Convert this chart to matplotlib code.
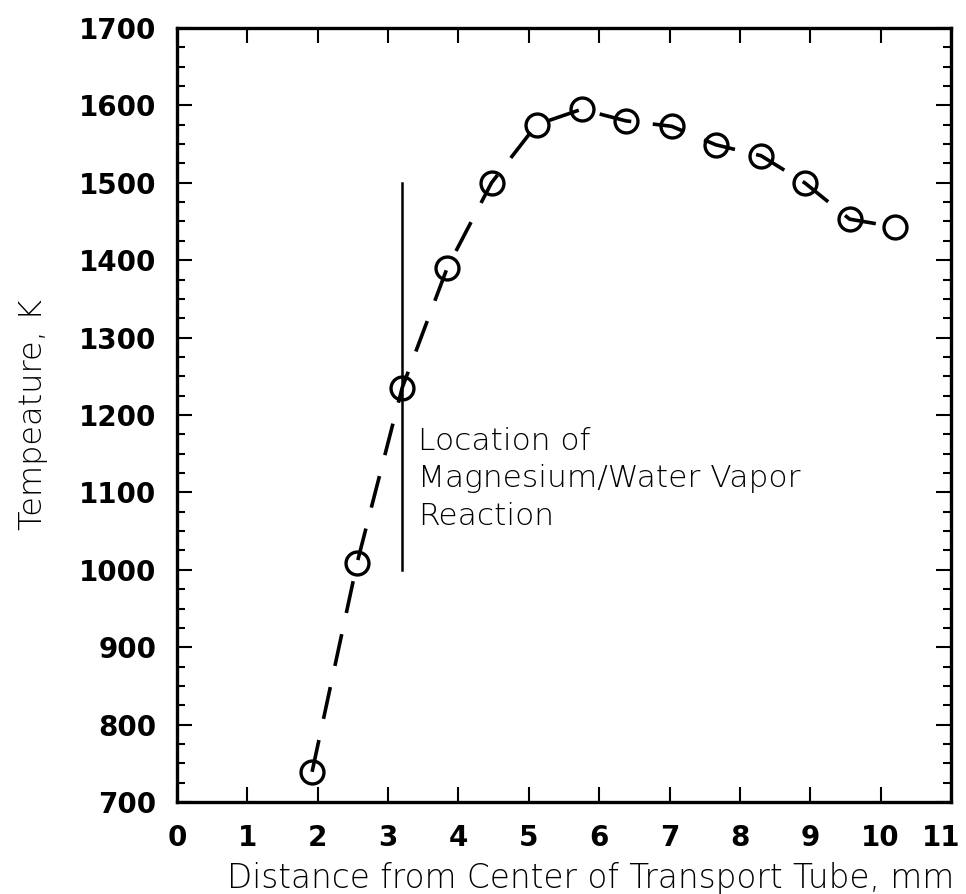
import matplotlib
matplotlib.use("Agg")
import matplotlib.pyplot as plt
from matplotlib.ticker import MultipleLocator
from matplotlib.transforms import ScaledTranslation

# measured temperature profile across the transport tube
distance_mm = [1.92, 2.56, 3.20, 3.84, 4.47, 5.11, 5.75, 6.38, 7.03, 7.66, 8.30, 8.92, 9.56, 10.20]
temperature_k = [739, 1009, 1235, 1390, 1500, 1575, 1595, 1580, 1573, 1549, 1535, 1500, 1453, 1443]

# reaction zone marker
reaction_x = 3.2
reaction_span = [1000, 1500]
reaction_note = "Location of\nMagnesium/Water Vapor\nReaction"

x_ticks = list(range(0, 12))
y_ticks = list(range(700, 1800, 100))

fig = plt.figure(figsize=(9.66, 8.94), dpi=100)
ax = fig.add_axes([0.1832, 0.1029, 0.8013, 0.8658])

line, = ax.plot(distance_mm, temperature_k, color="black", lw=2.6,
                marker="o", ms=16.5, mfc="none", mec="black", mew=2.4)
line.set_dashes((9, 6))

ax.plot([reaction_x, reaction_x], reaction_span, color="black", lw=1.8)
ax.text(reaction_x + 0.22, 1185, reaction_note, fontsize=22.5, va="top",
        ha="left", family="DejaVu Sans", weight="light", color="black",
        linespacing=1.38)

ax.set_xlim(0, 11)
ax.set_ylim(700, 1700)
ax.set_xticks(x_ticks)
ax.set_yticks(y_ticks)
ax.yaxis.set_minor_locator(MultipleLocator(25))
ax.tick_params(which="both", direction="in", top=True, right=True,
               width=1.5, labelsize=20)
ax.tick_params(axis="x", pad=16)
ax.tick_params(axis="y", pad=15)
ax.tick_params(which="major", length=11)
ax.tick_params(which="minor", length=6)
for lbl in ax.get_xticklabels() + ax.get_yticklabels():
    lbl.set_fontweight("bold")
# pull the last x label in so it stays on the canvas
last = ax.get_xticklabels()[-1]
last.set_transform(last.get_transform() + ScaledTranslation(-7 / 72, 0, fig.dpi_scale_trans))
for sp in ax.spines.values():
    sp.set_linewidth(2.4)

ax.set_xlabel("Distance from Center of Transport Tube, mm", fontsize=23.5,
              weight="light", color="black", labelpad=7)
ax.xaxis.label.set_x(0.535)
ax.set_ylabel("Tempeature, K", fontsize=23, weight="light", color="black",
              labelpad=22)

fig.savefig("out.png", dpi=100)
